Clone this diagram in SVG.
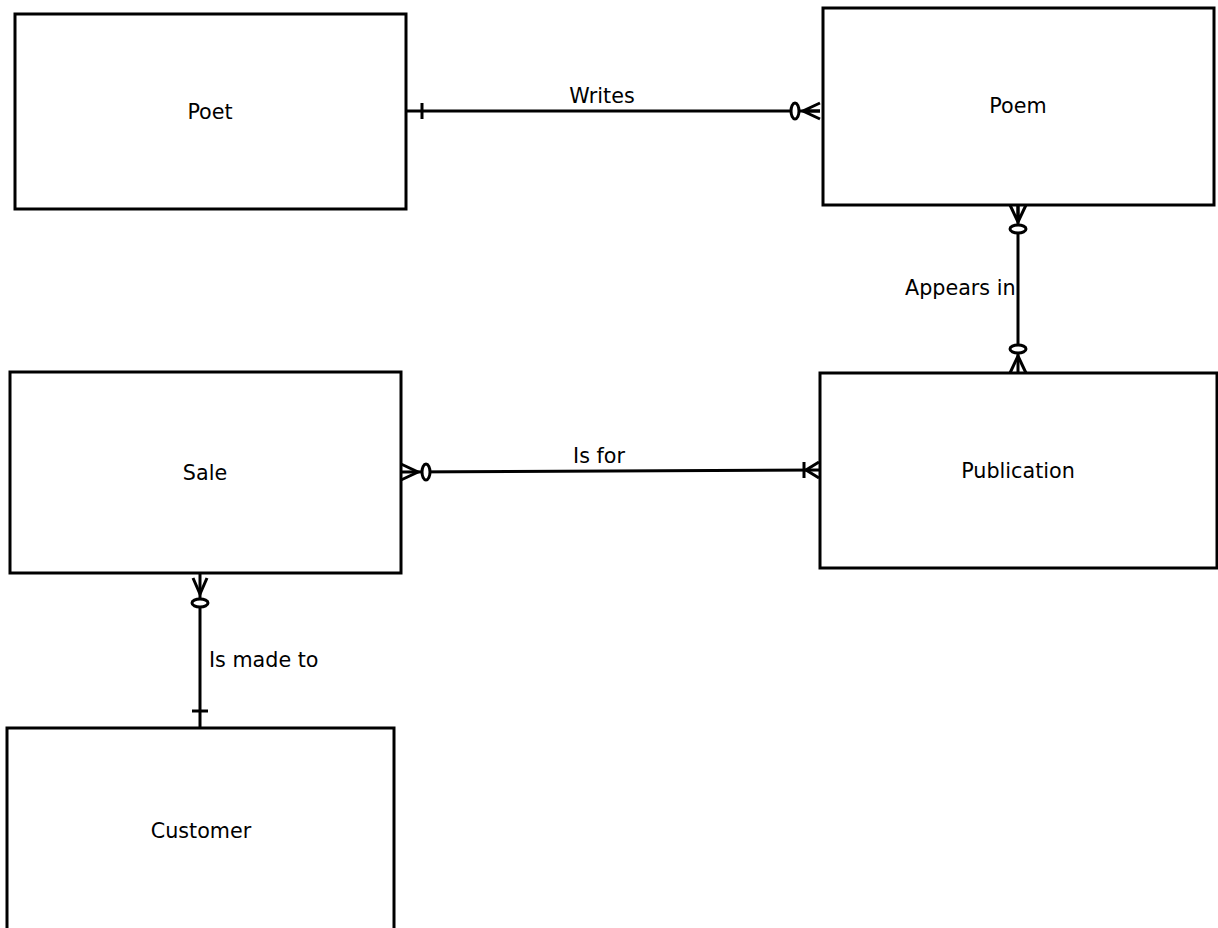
<svg xmlns="http://www.w3.org/2000/svg" width="1218" height="928" viewBox="0 0 1218 928">
<style>
.box{fill:#fff;stroke:#000;stroke-width:3}
.ln{fill:none;stroke:#000;stroke-width:3}
.el{fill:#fff;stroke:#000;stroke-width:3}
text{font-family:"DejaVu Sans",sans-serif;font-size:20.7px;fill:#000}
.c{text-anchor:middle}
</style>
<rect width="1218" height="928" fill="#fff"/>
<g id="connectors">
  <g id="writes">
    <line class="ln" x1="406" y1="111" x2="820" y2="111"/>
    <line class="ln" x1="422" y1="103" x2="422" y2="119"/>
    <ellipse class="el" cx="795" cy="111" rx="4" ry="8"/>
    <path class="ln" d="M820,103 L803,111 L820,119 M803,111 L820,111"/>
    <text class="c" x="602" y="103">Writes</text>
  </g>
  <g id="appears">
    <line class="ln" x1="1018" y1="205" x2="1018" y2="373"/>
    <path class="ln" d="M1010,205 L1018,222 L1026,205 M1018,205 L1018,222"/>
    <ellipse class="el" cx="1018" cy="229" rx="8" ry="4"/>
    <ellipse class="el" cx="1018" cy="349" rx="8" ry="4"/>
    <path class="ln" d="M1010,373 L1018,356 L1026,373"/>
    <text x="905" y="295">Appears in</text>
  </g>
  <g id="isfor">
    <line class="ln" x1="401" y1="472" x2="820" y2="470"/>
    <path class="ln" d="M401,464 L418,472 L401,480"/>
    <ellipse class="el" cx="426" cy="472" rx="4" ry="8"/>
    <line class="ln" x1="804" y1="462" x2="804" y2="478"/>
    <path class="ln" d="M819,462 L806,470 L819,478"/>
    <text class="c" x="599" y="463">Is for</text>
  </g>
  <g id="madeto">
    <line class="ln" x1="200" y1="573" x2="200" y2="728"/>
    <path class="ln" d="M193,578 L200,594 L207,578"/>
    <ellipse class="el" cx="200" cy="603" rx="8" ry="4"/>
    <line class="ln" x1="192" y1="711" x2="208" y2="711"/>
    <text x="209" y="667">Is made to</text>
  </g>
</g>
<g id="poet"><rect class="box" x="15" y="14" width="391" height="195"/><text class="c" x="210" y="119">Poet</text></g>
<g id="poem"><rect class="box" x="823" y="8" width="391" height="197"/><text class="c" x="1018" y="113">Poem</text></g>
<g id="sale"><rect class="box" x="10" y="372" width="391" height="201"/><text class="c" x="205" y="480">Sale</text></g>
<g id="publication"><rect class="box" x="820" y="373" width="397" height="195"/><text class="c" x="1018" y="478">Publication</text></g>
<g id="customer"><rect class="box" x="7" y="728" width="387" height="210"/><text class="c" x="201" y="838">Customer</text></g>
</svg>
